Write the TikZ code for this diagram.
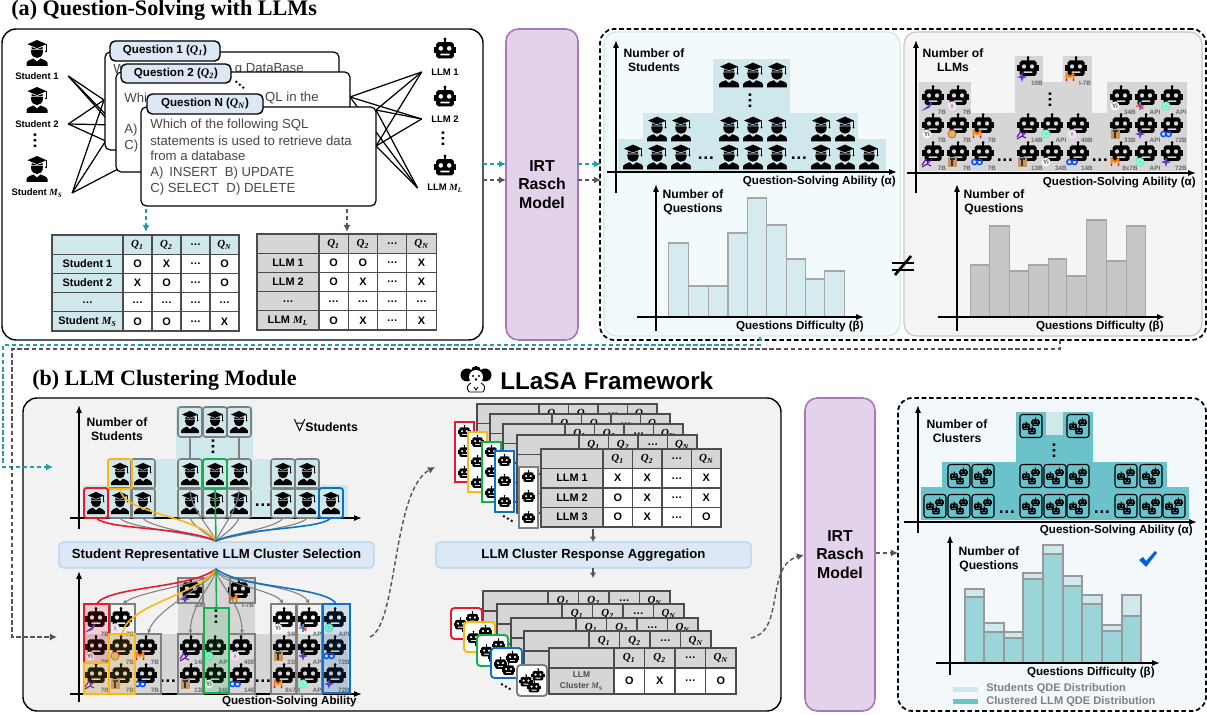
\documentclass[tikz,border=0pt]{standalone}
\usepackage{fontspec}
\usepackage{amsmath}
\setmainfont{Liberation Sans}
\newfontfamily\titlefont{Liberation Serif}
\usetikzlibrary{arrows.meta}
\pgfdeclarelayer{panellayer}
\pgfdeclarelayer{edgelayer}
\pgfsetlayers{panellayer,edgelayer,main}
\definecolor{tealflow}{HTML}{1F9DA8}
\definecolor{grayflow}{HTML}{555555}
\definecolor{stulight}{HTML}{CFE8EC}
\definecolor{llmgray}{HTML}{D6D6D6}
\definecolor{tabblue}{HTML}{DCE8F5}
\definecolor{tabline}{HTML}{B5D3EE}
\definecolor{irtfill}{HTML}{E2D3EA}
\definecolor{irtline}{HTML}{A678B9}
\definecolor{clusterteal}{HTML}{6CC2CB}
\definecolor{mixteal}{HTML}{9AD5D9}
\definecolor{pickred}{HTML}{E8192C}
\definecolor{pickyellow}{HTML}{FBB810}
\definecolor{pickgreen}{HTML}{10B04A}
\definecolor{pickblue}{HTML}{0B72C7}
\definecolor{pickgray}{HTML}{808080}
\definecolor{panelblue}{HTML}{F2F8FC}
\definecolor{panelstu}{HTML}{F3FAFC}
\newcommand{\pxu}{0.02cm}
\newcommand{\qsub}[2]{{\titlefont\itshape #1\textsubscript{#2}}}
\newcommand{\qa}{\qsub{Q}{1}}
\newcommand{\qb}{\qsub{Q}{2}}
\newcommand{\qn}{\qsub{Q}{N}}
\newcommand{\ms}{\qsub{M}{S}}
\newcommand{\ml}{\qsub{M}{L}}
\newcommand{\updots}{\rotatebox{90}{\ldots}}
\tikzset{
	pxbox/.style={inner sep=0pt,outer sep=0pt,align=center},
	panel/.style={pxbox,draw=black,line width=.8pt,rounded corners=8pt},
	dashpanel/.style={pxbox,draw=black,line width=1pt,dash pattern=on 2.6pt off 1.6pt,rounded corners=8pt},
	irtbox/.style={pxbox,draw=irtline,fill=irtfill,line width=.9pt,rounded corners=7pt,font=\fontsize{9}{10.6}\selectfont\bfseries},
	card/.style={pxbox,draw=black,fill=white,line width=.7pt,rounded corners=3pt},
	tabnode/.style={pxbox,draw=black,fill=tabblue,line width=.8pt,rounded corners=3pt,font=\fontsize{6.6}{8}\selectfont\bfseries},
	stagebox/.style={pxbox,draw=tabline,fill=tabblue,line width=.7pt,rounded corners=2.5pt,font=\fontsize{7.5}{9}\selectfont\bfseries},
	cardtext/.style={anchor=west,inner sep=0pt,text=black!72,font=\fontsize{7.5}{8}\selectfont},
	botlabel/.style={inner sep=0pt,outer xsep=5.5pt,font=\fontsize{5.4}{6.5}\selectfont\bfseries},
	axislabel/.style={inner sep=0pt,align=center,font=\fontsize{6.9}{8}\selectfont\bfseries},
	endlabel/.style={inner sep=0pt,anchor=east,font=\fontsize{6.6}{8}\selectfont\bfseries},
	sizelabel/.style={inner sep=0pt,text=black!60,font=\fontsize{3.6}{4}\selectfont\bfseries},
	dotnode/.style={inner sep=0pt,font=\fontsize{10}{10}\selectfont\bfseries},
	cell/.style={pxbox,draw=black!70,line width=.6pt,font=\fontsize{6.2}{7}\selectfont\bfseries},
	wire/.style={line width=.7pt},
	axisline/.style={line width=.9pt,-{Latex[length=4.5pt,width=3.5pt]}},
	flowteal/.style={draw=tealflow,line width=.8pt,dash pattern=on 2.5pt off 1.5pt,-{Latex[length=4pt,width=4pt]}},
	flowgray/.style={draw=grayflow,line width=.8pt,dash pattern=on 2.5pt off 1.5pt,-{Latex[length=4pt,width=4pt]}},
	stepflow/.style={draw=grayflow,line width=.8pt,-{Latex[length=3pt,width=3.5pt]}},
	fan/.style={draw=pickgray,line width=.6pt},
	fantip/.style={fan,-{Latex[length=2.5pt,width=2.5pt]}},
	pickline/.style={draw=#1,line width=.9pt},
	stubox/.style={pxbox,draw=pickgray,line width=.9pt,rounded corners=1.5pt},
	llmbox/.style={pxbox,draw=pickgray,line width=.9pt},
	tintbox/.style={pxbox,draw=#1,line width=1.1pt,fill=#1,fill opacity=.16},
	stripbox/.style={pxbox,draw=#1,line width=1.1pt,fill=white},
	clubox/.style={pxbox,draw=#1,line width=1.1pt,fill=white,rounded corners=2pt},
	student/.pic={
		\fill (-9.5,-8.8) -- (0,-13) -- (9.5,-8.8) -- (0,-4.8) -- cycle;
		\draw [line width=.4pt] (9,-8.8) -- (9,-1.5);
		\fill (9,-1.5) circle (1);
		\fill (-5.5,-6) -- (0,-4) -- (5.5,-6) -- (5.5,-3.5) -- (-5.5,-3.5) -- cycle;
		\fill (-5.8,-2.8) -- (5.8,-2.8) -- (5.8,-.5) .. controls (5.8,3) and (2.5,5) .. (0,5) .. controls (-2.5,5) and (-5.8,3) .. (-5.8,-.5) -- cycle;
		\fill (-10.5,13) -- (-10.5,10) .. controls (-10,7.5) and (-6,6.5) .. (-3.5,5.5) -- (0,8.5) -- (3.5,5.5) .. controls (6,6.5) and (10,7.5) .. (10.5,10) -- (10.5,13) -- cycle;
	},
	robot/.pic={
		\fill (0,-10.5) circle (1.5);
		\fill (-.7,-10.5) rectangle (.7,-7);
		\fill (-10.6,-2.5) rectangle (-8,3);
		\fill (8,-2.5) rectangle (10.6,3);
		\fill [even odd rule] (-6.5,-7.5) -- (6.5,-7.5) -- (8.5,-5.5) -- (8.5,6) -- (6.5,8) -- (-6.5,8) -- (-8.5,6) -- (-8.5,-5.5) -- cycle (-4,-1.5) circle (2.3) (4,-1.5) circle (2.3) (-4.3,3.4) rectangle (4.3,5.2);
	},
	cluster/.pic={
		\pic [scale=.42] at (-5,.5) {robot};
		\pic [scale=.42] at (4.5,-3.5) {robot};
		\pic [scale=.42] at (1,5) {robot};
	},
	bigcluster/.pic={
		\pic [scale=.62] at (-6,1) {robot};
		\pic [scale=.62] at (6,-5) {robot};
		\pic [scale=.62] at (2,7) {robot};
	},
	logoM/.pic={\draw [color=orange,line width=1.1pt] (-3.5,4) -- (-3.5,-3) -- (0,0) -- (3.5,-3) -- (3.5,4);
		\draw [color=red,line width=.6pt] (-3.5,4.5) -- (-3.5,2) (3.5,4.5) -- (3.5,2);},
	logoYi/.pic={\fill [white] (0,0) circle (4.5); \node [text=black!70,inner sep=0pt,font=\fontsize{3.6}{4}\selectfont\bfseries] (yi) at (0,0) {Yi};},
	logoGpt/.pic={\fill [color=black!20!green!35!cyan!60] (0,0) circle (4.6); \draw [white,line width=.3pt] (0,0) circle (2.4);},
	logoMeta/.pic={\draw [color=blue!70!cyan,line width=.8pt] (-2.6,0) circle (2.6) (2.6,0) circle (2.6);},
	logoFalcon/.pic={\fill [color=brown!85!white] (-4.5,-5) rectangle (4.5,5); \draw [black!80,line width=.7pt] (-2.5,-3) -- (2.5,-3) (0,-3) -- (0,4);},
	logoStar/.pic={\fill [color=violet!55!blue!80!white] (0,-5) -- (1.2,-1.2) -- (5,0) -- (1.2,1.2) -- (0,5) -- (-1.2,1.2) -- (-5,0) -- (-1.2,-1.2) -- cycle;},
	logoWave/.pic={\draw [color=violet!70!blue,line width=.6pt] (-5,3) -- (-1,-3) -- (1,1) -- (5,-3) (-5,5) -- (0,2) -- (4,4);},
	logoPen/.pic={\fill [color=blue!60!violet!80!white] (-6,5) -- (2,-1) -- (4,-5) -- (5,-2) -- (2,2) -- cycle;},
	logoGem/.pic={\draw [color=orange,line width=.7pt] (-4,0) -- (4,0); \draw [color=cyan,line width=.7pt] (0,-4) -- (0,4); \draw [color=magenta,line width=.6pt] (-3,-3) -- (3,3);},
	logoSage/.pic={\fill [color=violet!12] (0,0) circle (4.8); \fill [color=violet!45] (0,-3) -- (1,0) -- (0,3) -- (-1,0) -- cycle;},
	logoBall/.pic={\fill [color=olive!50] (0,0) circle (4); \draw [color=red!70,line width=.5pt] (0,0) circle (4);},
	dog/.pic={
		\fill (-9,-6) circle (6.5);
		\fill (9,-6) circle (6.5);
		\fill (0,-10) circle (5);
		\fill [white] (0,-4) circle (7);
		\fill [white] (0,7) circle (8);
		\draw [line width=.5pt] (-7,11) .. controls (-11,6) and (-7,3) .. (-5,2) (7,11) .. controls (11,6) and (7,3) .. (5,2) (-7,11) -- (7,11) (-2,6) -- (0,9) -- (2,6);
		\fill (-3,-5) circle (1.2) (3,-5) circle (1.2) (0,-1.5) circle (1.4);
	}
}
% box given by its corners in pixels
\newcommand{\boxat}[7][]{\node [pxbox,#1,minimum width={(#5-#3)*\pxu},minimum height={(#6-#4)*\pxu}] (#2) at ({(#3+#5)/2},{(#4+#6)/2}) {#7};}
% answer table: name, left, top, first col, col, row, fill, rows
\newcommand{\anstable}[8]{%
	\foreach \row [count=\r] in {#8} {
		\foreach \txt [count=\c] in \row {
			\pgfmathsetmacro\cx{\c==1 ? #2+#4/2 : #2+#4+(\c-1.5)*#5}
			\pgfmathsetmacro\cw{\c==1 ? #4 : #5}
			\pgfmathsetmacro\cy{#3+(\r-.5)*#6}
			\ifnum\c=1 \def\cf{#7}\else\ifnum\r=1 \def\cf{#7}\else\def\cf{white}\fi\fi
			\node [cell,fill=\cf,minimum width={\cw*\pxu},minimum height={#6*\pxu}] (#1-\r-\c) at (\cx,\cy) {\txt};
		}
	}
}
% one llm of the pyramid: x, y, logo, size
\newcommand{\llmbot}[4]{%
	\pic at (#1,#2) {robot};
	\pic at ({#1-6},{#2+9}) {#3};
	\node [sizelabel] (size-#1-#2) at ({#1+9},{#2+15}) {#4};
}
\newcommand{\llmfamily}{%
	\foreach \x/\y/\l/\t in {1028/68/logoStar/10B,1076/68/logoM/I-7B,
		933/97/logoPen/7B,958/97/logoSage/7B,1121/97/logoYi/34B,1146/97/logoGem/API,1172/97/logoGpt/API,
		933/125/logoYi/7B,958/125/logoBall/7B,983/125/logoM/7B,1028/125/logoWave/14B,1052/125/logoGpt/API,1078/125/logoSage/40B,1121/125/logoFalcon/33B,1146/125/logoStar/API,1172/125/logoMeta/72B,
		933/153/logoWave/7B,958/153/logoFalcon/7B,983/153/logoMeta/7B,1028/153/logoFalcon/13B,1052/153/logoYi/34B,1078/153/logoMeta/14B,1121/153/logoM/8x7B,1146/153/logoGpt/API,1172/153/logoStar/72B}
		{\llmbot{\x}{\y}{\l}{\t}}
}
\begin{document}
\begin{tikzpicture}[x=\pxu,y=-\pxu]
	\useasboundingbox (0,0) rectangle (1207,715);
	\node [anchor=west,inner sep=0pt,font=\titlefont\fontsize{12.6}{13}\selectfont\bfseries] (titlea) at (11,10) {(a) Question-Solving with LLMs};
	\node [anchor=west,inner sep=0pt,font=\titlefont\fontsize{12.5}{13}\selectfont\bfseries] (titleb) at (32,380) {(b) LLM Clustering Module};
	\node [anchor=west,inner sep=0pt,font=\fontsize{13.8}{14}\selectfont\bfseries] (titlec) at (500,381) {LLaSA Framework};
	\pic at (476,381) {dog};
	\begin{pgfonlayer}{panellayer}
		\boxat[panel,fill=white]{panela}{2}{29}{483}{340}{}
		\boxat[panel,fill=black!5]{panelb}{23}{398}{781}{711}{}
		\boxat[dashpanel,fill=white]{irtout}{600}{29}{1206}{340}{}
		\boxat[pxbox,draw=stulight,fill=panelstu,line width=.7pt,rounded corners=7pt]{stupanel}{604}{32}{900}{336}{}
		\boxat[pxbox,draw=black!22,fill=black!4,line width=.7pt,rounded corners=7pt]{llmpanel}{904}{32}{1202}{336}{}
		\boxat[dashpanel,fill=panelblue]{outb}{898}{398}{1206}{711}{}
	\end{pgfonlayer}

	% (a) students, llms and question cards
	\foreach \y in {53,100,169} {\pic at (37,\y) {student};}
	\node [botlabel] (st1) at (37,76) {Student 1};
	\node [botlabel] (st2) at (37,124) {Student 2};
	\node [botlabel] (st3) at (37,193) {Student \ms};
	\node [dotnode] (stdots) at (35,141) {\updots};
	\foreach \y in {50,98,167} {\pic [scale=1.05] at (445,\y) {robot};}
	\node [botlabel] (ll1) at (445,72) {LLM 1};
	\node [botlabel] (ll2) at (445,119) {LLM 2};
	\node [botlabel] (ll3) at (445,188) {LLM \ml};
	\node [dotnode] (lldots) at (443,139) {\updots};
	\coordinate (b1) at (104,100);
	\coordinate (b2) at (116,125);
	\coordinate (b3) at (141,157);
	\coordinate (c1) at (350,97);
	\coordinate (c2) at (376,110);
	\coordinate (c3) at (376,146);
	\begin{pgfonlayer}{edgelayer}
		\foreach \s in {st1,st2,st3} {
			\foreach \b in {b1,b2,b3} {\draw [wire] (\s.east) to (\b);}
		}
		\foreach \l in {ll1,ll2,ll3} {
			\foreach \c in {c1,c2,c3} {\draw [wire] (\l.west) to (\c);}
		}
	\end{pgfonlayer}
	\boxat[card]{card1}{105}{52}{339}{150}{}
	\boxat[tabnode]{tab1}{110}{41}{220}{61}{Question 1 (\qa)}
	\node [cardtext] (t1a) at (113,69) {W};
	\node [cardtext,anchor=east] (t1b) at (304,69) {g DataBase};
	\boxat[card]{card2}{116}{72}{350}{172}{}
	\boxat[tabnode]{tab2}{121}{64}{231}{83}{Question 2 (\qb)}
	\node [cardtext] (t2a) at (124,98) {Whi};
	\node [cardtext,anchor=east] (t2b) at (319,98) {QL in the};
	\node [cardtext] (t2c) at (124,130) {A)};
	\node [cardtext] (t2d) at (124,146) {C)};
	\node [inner sep=0pt,font=\fontsize{8}{8}\selectfont\bfseries] (tabdots) at (240,85) {\rotatebox{-40}{\ldots}};
	\boxat[card]{card3}{141}{107}{376}{206}{}
	\boxat[tabnode]{tab3}{147}{94}{263}{114}{Question N (\qn)}
	\node [cardtext] (t3a) at (150,125) {Which of the following SQL};
	\node [cardtext] (t3b) at (150,141) {statements is used to retrieve data};
	\node [cardtext] (t3c) at (150,156) {from a database};
	\node [cardtext] (t3d) at (150,173) {A)\, INSERT\; B) UPDATE};
	\node [cardtext] (t3e) at (150,189) {C) SELECT\; D) DELETE};

	\coordinate (dsa) at (146,209);
	\coordinate (dsb) at (146,232);
	\coordinate (dla) at (347,209);
	\coordinate (dlb) at (347,232);
	\draw [flowteal] (dsa) to (dsb);
	\draw [flowgray] (dla) to (dlb);
	\anstable{stut}{52}{235}{71}{29}{19.2}{stulight}{{{},\qa,\qb,\ldots,\qn},{Student 1,O,X,\ldots,O},{Student 2,X,O,\ldots,O},{\ldots,\ldots,\ldots,\ldots,\ldots},{Student \ms,O,O,\ldots,X}}
	\anstable{llmt}{257}{234}{62}{29.3}{19.2}{llmgray}{{{},\qa,\qb,\ldots,\qn},{LLM 1,O,O,\ldots,X},{LLM 2,O,X,\ldots,X},{\ldots,\ldots,\ldots,\ldots,\ldots},{LLM \ml,O,X,\ldots,X}}

	% irt model and its arrows
	\boxat[irtbox]{irta}{506}{29}{578}{340}{IRT\\Rasch\\Model}
	\boxat[irtbox]{irtb}{805}{398}{875}{711}{IRT\\Rasch\\Model}
	\coordinate (pt) at (483,164);
	\coordinate (pg) at (483,180);
	\coordinate (qt) at (506,164);
	\coordinate (qg) at (506,180);
	\coordinate (rt) at (578,164);
	\coordinate (rg) at (578,180);
	\coordinate (ut) at (601,164);
	\coordinate (ug) at (601,180);
	\draw [flowteal] (pt) to (qt);
	\draw [flowgray] (pg) to (qg);
	\draw [flowteal] (rt) to (ut);
	\draw [flowgray] (rg) to (ug);

	% students pyramid
	\fill [stulight] (618,139) rectangle (886,171);
	\fill [stulight] (643,113) rectangle (858,139);
	\fill [stulight] (713,59) rectangle (790,113);
	\foreach \x/\y in {729/75,753/75,777/75,657/129,681/129,729/129,753/129,777/129,821/129,845/129,633/157,657/157,681/157,729/157,753/157,777/157,821/157,845/157,869/157} {\pic [scale=.95] at (\x,\y) {student};}
	\node [inner sep=0pt,font=\bfseries] (sdota) at (706,158) {\ldots};
	\node [inner sep=0pt,font=\bfseries] (sdotb) at (799,158) {\ldots};
	\node [dotnode] (sdotc) at (750,101) {\updots};
	\coordinate (ax1) at (616,193);
	\coordinate (ax2) at (616,40);
	\coordinate (ax3) at (607,172);
	\coordinate (ax4) at (897,172);
	\draw [axisline] (ax1) to (ax2);
	\draw [axisline] (ax3) to (ax4);
	\node [axislabel] (sny) at (654,60) {Number of\\Students};
	\node [endlabel] (snx) at (896,182) {Question-Solving Ability (α)};

	% student difficulty bars
	\foreach \xa/\xb/\ty in {668.4/688.7/243,688.7/708.6/286,708.6/728/286,728/747.6/233,747.6/766.7/198,766.7/786.3/225,786.3/805.8/259,805.8/824.5/279,824.5/844.8/271} {\draw [draw=black!35,fill=stulight!85,line width=.6pt] (\xa,\ty) rectangle (\xb,317);}
	\coordinate (ax5) at (656,331);
	\coordinate (ax6) at (656,184);
	\coordinate (ax7) at (637,317);
	\coordinate (ax8) at (864,317);
	\draw [axisline] (ax5) to (ax6);
	\draw [axisline] (ax7) to (ax8);
	\node [axislabel] (qny) at (693,202) {Number of\\Questions};
	\node [endlabel] (qnx) at (864,327) {Questions Difficulty (β)};

	% llm pyramid
	\fill [llmgray] (919,113) rectangle (1187,171);
	\fill [llmgray] (919,82) rectangle (971,113);
	\fill [llmgray] (1015,82) rectangle (1092,113);
	\fill [llmgray] (1107,82) rectangle (1187,113);
	\fill [llmgray] (1015,56) rectangle (1043,86);
	\fill [llmgray] (1063,56) rectangle (1092,86);
	\llmfamily
	\node [inner sep=0pt,font=\bfseries] (ldota) at (1005,160) {\ldots};
	\node [inner sep=0pt,font=\bfseries] (ldotb) at (1100,160) {\ldots};
	\node [dotnode] (ldotc) at (1050,100) {\updots};
	\coordinate (ax9) at (916,193);
	\coordinate (ax10) at (916,40);
	\coordinate (ax11) at (907,173);
	\coordinate (ax12) at (1196,173);
	\draw [axisline] (ax9) to (ax10);
	\draw [axisline] (ax11) to (ax12);
	\node [axislabel] (lny) at (953,60) {Number of\\LLMs};
	\node [endlabel] (lnx) at (1196,183) {Question-Solving Ability (α)};

	% llm difficulty bars
	\foreach \xa/\xb/\ty in {970.5/989.2/265,989.2/1009.5/226,1009.5/1028.3/271,1028.3/1048.5/265,1048.5/1066.5/259,1066.5/1086.7/276,1086.7/1106.7/220,1106.7/1126.2/261,1126.2/1145.7/226} {\draw [draw=black!35,fill=black!22,line width=.6pt] (\xa,\ty) rectangle (\xb,317);}
	\coordinate (ax13) at (957,331);
	\coordinate (ax14) at (957,184);
	\coordinate (ax15) at (938,317);
	\coordinate (ax16) at (1165,317);
	\draw [axisline] (ax13) to (ax14);
	\draw [axisline] (ax15) to (ax16);
	\node [axislabel] (mny) at (994,202) {Number of\\Questions};
	\node [endlabel] (mnx) at (1164,327) {Questions Difficulty (β)};

	% not equal sign
	\coordinate (ne1) at (892,263);
	\coordinate (ne2) at (914,263);
	\coordinate (ne3) at (892,270);
	\coordinate (ne4) at (914,270);
	\coordinate (ne5) at (895,275);
	\coordinate (ne6) at (911,256);
	\draw [line width=1.5pt] (ne1) to (ne2);
	\draw [line width=1.5pt] (ne3) to (ne4);
	\draw [line width=1.5pt] (ne5) to (ne6);

	% long dashed links into (b)
	\coordinate (ta) at (760,337);
	\coordinate (tb) at (760,345);
	\coordinate (tc) at (3,345);
	\coordinate (td) at (3,467);
	\coordinate (te) at (53,467);
	\draw [flowteal] (ta) to (tb) to (tc) to (td) to (te);
	\coordinate (ga) at (1060,340);
	\coordinate (gb) at (1060,349);
	\coordinate (gc) at (12,349);
	\coordinate (gd) at (12,637);
	\coordinate (ge) at (57,637);
	\draw [flowgray] (ga) to (gb) to (gc) to (gd) to (ge);

	% (b) student selection
	\fill [stulight] (83,485) rectangle (348,517);
	\fill [stulight] (107,459) rectangle (320,485);
	\fill [stulight] (176,406) rectangle (253,459);
	\coordinate (bx1) at (79,529);
	\coordinate (bx2) at (79,405);
	\coordinate (bx3) at (70,518);
	\coordinate (bx4) at (362,518);
	\draw [axisline] (bx1) to (bx2);
	\draw [axisline] (bx3) to (bx4);
	\node [axislabel] (bny) at (117,429) {Number of\\Students};
	\node [inner sep=0pt,font=\fontsize{7}{8}\selectfont\bfseries] (forall) at (326,425) {{\fontsize{10}{10}\selectfont$\boldsymbol{\forall}$}Students};
	\foreach \n/\x/\y in {ta/190/422,tb/215/422,tc/239/422,ma/143/474,mb/190/474,mc/239/474,md/283/474,me/307/474,la/120/503,lb/143/503,lc/190/503,ld/215/503,le/239/503,lf/283/503,lg/307/503} {
		\pic [scale=.85] at (\x,\y) {student};
		\node [stubox,minimum width={24*\pxu},minimum height={30*\pxu}] (sb\n) at (\x,\y) {};
	}
	\foreach \n/\x/\y/\c in {pr/96/503/pickred,py/120/474/pickyellow,pg/215/474/pickgreen,pb/331/503/pickblue} {
		\pic [scale=.85] at (\x,\y) {student};
		\node [stubox,draw=\c,line width=1.1pt,minimum width={24*\pxu},minimum height={30*\pxu}] (sb\n) at (\x,\y) {};
	}
	\node [inner sep=0pt,font=\bfseries] (bdota) at (263,505) {\ldots};
	\node [dotnode] (bdotb) at (213,447) {\updots};
	\boxat[stagebox]{selbox}{59}{542}{374}{568}{Student Representative LLM Cluster Selection}
	\coordinate (hub) at (216,541);
	\coordinate (hubb) at (216,569);
	\draw [fan] (sbta.south) to (sbmb.north);
	\draw [fan] (sbtc.south) to (sbmc.north);
	\foreach \n/\ax/\bx in {la/5/-24,lb/5/-20,lc/4/-10,le/-4/10,lf/-5/20,lg/-5/24} {
		\draw [fan] (sb\n.south) .. controls +(\ax,9) and +(\bx,-8) .. (hub);
	}
	\draw [fan] (sbmc.south) .. controls +(0,20) and +(6,-14) .. (hub);
	\draw [fan] (sbmb.south) .. controls +(0,20) and +(-6,-14) .. (hub);
	\draw [pickline=pickred] (sbpr.south) .. controls +(12,12) and +(-30,-14) .. (hub);
	\draw [pickline=pickyellow] (sbpy.south) .. controls +(2,25) and +(-15,-25) .. (hub);
	\draw [pickline=pickgreen] (sbpg.south) to (hub);
	\draw [pickline=pickblue] (sbpb.south) .. controls +(-12,12) and +(30,-14) .. (hub);

	% (b) llm selection
	\fill [llmgray] (83,634) rectangle (348,694);
	\fill [llmgray] (178,578) rectangle (255,634);
	\begin{scope}[shift={(-837,522)}]
		\llmfamily
	\end{scope}
	\node [inner sep=0pt,font=\bfseries] (bdotc) at (168,681) {\ldots};
	\node [inner sep=0pt,font=\bfseries] (bdotd) at (263,681) {\ldots};
	\node [dotnode] (bdote) at (216,617) {\updots};
	\coordinate (bx5) at (79,702);
	\coordinate (bx6) at (79,571);
	\coordinate (bx7) at (70,694);
	\coordinate (bx8) at (362,694);
	\draw [axisline] (bx5) to (bx6);
	\draw [axisline] (bx7) to (bx8);
	\node [endlabel] (bnx) at (357,702) {Question-Solving Ability};
	\boxat[llmbox]{lb1}{110}{604}{135}{634}{}
	\boxat[llmbox]{lb2}{135}{634}{161}{694}{}
	\boxat[llmbox]{lb3}{178}{634}{203}{694}{}
	\boxat[llmbox]{lb4}{229}{634}{255}{694}{}
	\boxat[llmbox]{lb5}{271}{604}{296}{694}{}
	\boxat[llmbox]{lb6}{297}{604}{322}{694}{}
	\boxat[llmbox]{lb7}{178}{578}{203}{603}{}
	\boxat[llmbox]{lb8}{230}{578}{255}{603}{}
	\boxat[tintbox=pickred]{lr}{84}{604}{109}{663}{}
	\boxat[tintbox=pickyellow]{ly1}{84}{663}{109}{694}{}
	\boxat[tintbox=pickyellow]{ly2}{109}{634}{135}{694}{}
	\boxat[tintbox=pickgreen]{lg}{204}{608}{229}{693}{}
	\boxat[tintbox=pickblue]{lbl}{323}{604}{350}{693}{}
	\foreach \n/\rx/\ry in {lb1/20/-14,lb5/-10/-14,lb6/-12/-20} {
		\draw [fantip] (hubb) .. controls +(0,14) and +(\rx,\ry) .. (\n.north);
	}
	\foreach \n/\rx/\ry in {lb2/8/-26,lb3/0/-30,lb4/0/-30} {
		\draw [fantip] (hubb) .. controls +(0,12) and +(\rx,\ry) .. (\n.north);
	}
	\draw [pickline=pickred] (hubb) .. controls +(-26,20) and +(12,-18) .. (lr.north);
	\draw [pickline=pickyellow] (hubb) .. controls +(-15,25) and +(5,-30) .. (ly2.north);
	\draw [pickline=pickgreen] (hubb) to (lg.north);
	\draw [pickline=pickblue] (hubb) .. controls +(26,20) and +(-12,-18) .. (lbl.north);
	\coordinate (ia) at (370,637);
	\coordinate (ib) at (435,467);
	\draw [flowgray] (ia) .. controls (398,625) and (392,490) .. (ib);

	% (b) upper table stack
	\foreach \i/\x/\y in {0/477/404,1/490/414,2/503/424,3/517/435} {
		\anstable{up\i}{\x}{\y}{62}{29.5}{19.5}{llmgray}{{{},\qa,\qb,\ldots,\qn},{{},{},{},{},{}},{{},{},{},{},{}},{{},{},{},{},{}}}
	}
	\anstable{upf}{541}{449}{62}{29.5}{19.5}{llmgray}{{{},\qa,\qb,\ldots,\qn},{LLM 1,X,X,\ldots,X},{LLM 2,O,X,\ldots,X},{LLM 3,O,X,\ldots,O}}
	\foreach \n/\xa/\ya/\xb/\yb/\c in {sa/455/422/474/482/pickred,sb/468/432/487/492/pickyellow,sc/482/442/501/502/pickgreen,sd/495/451/514/512/pickblue,se/519/467/538/528/pickgray} {
		\boxat[stripbox=\c]{strip\n}{\xa}{\ya}{\xb}{\yb}{}
		\pgfmathsetmacro\mx{(\xa+\xb)/2}
		\foreach \dy in {10,30,51} {\pic [scale=.6] at (\mx,\ya+\dy) {robot};}
	}
	\node [inner sep=0pt,font=\fontsize{8}{8}\selectfont\bfseries] (stripdots) at (508,519) {\rotatebox{-30}{\ldots}};
	\coordinate (sa1) at (593,529);
	\coordinate (sa3) at (593,578);
	\boxat[stagebox]{aggbox}{436}{542}{751}{568}{LLM Cluster Response Aggregation}
	\draw [stepflow] (sa1) to (aggbox.north -| sa1);
	\draw [stepflow] (aggbox.south -| sa1) to (sa3);

	% (b) lower table stack
	\foreach \i/\x/\y in {0/483/591,1/497/604,2/511/618,3/524/631} {
		\anstable{lo\i}{\x}{\y}{65}{30.5}{20}{llmgray}{{{},\qa,\qb,\ldots,\qn},{{},{},{},{},{}},{{},{},{},{},{}}}
	}
	\anstable{lof}{549}{648}{65}{30.5}{20}{llmgray}{{{},\qa,\qb,\ldots,\qn}}
	\boxat[cell,fill=llmgray,text=black!70,font=\fontsize{4.8}{6.5}\selectfont\bfseries]{lofa}{549}{668}{614}{694}{LLM\\Cluster \ms}
	\boxat[cell,fill=white]{lofb}{614}{668}{644.5}{694}{O}
	\boxat[cell,fill=white]{lofc}{644.5}{668}{675}{694}{X}
	\boxat[cell,fill=white]{lofd}{675}{668}{705.5}{694}{\ldots}
	\boxat[cell,fill=white]{lofe}{705.5}{668}{736}{694}{O}
	\foreach \n/\xa/\ya/\xb/\yb/\c in {ca/451/608/482/639/pickred,cb/464/622/495/652/pickyellow,cc/477/635/508/666/pickgreen,cd/491/648/522/678/pickblue,ce/517/665/547/696/pickgray} {
		\boxat[clubox=\c]{clu\n}{\xa}{\ya}{\xb}{\yb}{}
		\pgfmathsetmacro\mx{(\xa+\xb)/2}
		\pgfmathsetmacro\my{(\ya+\yb)/2}
		\pic at (\mx,\my) {bigcluster};
	}
	\node [inner sep=0pt,font=\fontsize{8}{8}\selectfont\bfseries] (cludots) at (506,687) {\rotatebox{-30}{\ldots}};
	\coordinate (oa) at (751,638);
	\coordinate (ob) at (804,555);
	\draw [flowgray] (oa) .. controls (785,632) and (765,565) .. (ob);
	\coordinate (oc) at (876,553);
	\coordinate (od) at (898,553);
	\draw [flowgray] (oc) to (od);

	% clustered pyramid
	\fill [clusterteal] (921,487) rectangle (1189,520);
	\fill [clusterteal] (942,462) rectangle (1167,487);
	\fill [clusterteal] (1016,412) rectangle (1093,462);
	\fill [stulight] (1046,412) rectangle (1063,435);
	\foreach \n/\x/\y in {1/1031/426,2/1078/426,3/959/476,4/983/476,5/1031/476,6/1055/476,7/1078/476,8/1126/476,9/1151/476,10/935/506,11/959/506,12/983/506,13/1031/506,14/1055/506,15/1078/506,16/1126/506,17/1151/506,18/1174/506} {
		\node [pxbox,draw=black,line width=.6pt,rounded corners=1.5pt,minimum width={22*\pxu},minimum height={23*\pxu}] (cb\n) at (\x,\y) {};
		\pic at (\x,\y) {cluster};
	}
	\node [inner sep=0pt,font=\bfseries] (cdota) at (1007,512) {\ldots};
	\node [inner sep=0pt,font=\bfseries] (cdotb) at (1102,512) {\ldots};
	\node [dotnode] (cdotc) at (1054,451) {\updots};
	\coordinate (cx1) at (918,533);
	\coordinate (cx2) at (918,405);
	\coordinate (cx3) at (904,522);
	\coordinate (cx4) at (1197,522);
	\draw [axisline] (cx1) to (cx2);
	\draw [axisline] (cx3) to (cx4);
	\node [axislabel] (cny) at (957,431) {Number of\\Clusters};
	\node [endlabel] (cnx) at (1193,531) {Question-Solving Ability (α)};

	% clustered difficulty bars
	\foreach \xa/\xb/\ta/\tb in {965/984/589/597,984/1004/623/632,1004/1023/632/638,1023/1043/573/579,1043/1063/545/554,1063/1082/576/586,1082/1102/595/604,1102/1122/625/631,1122/1141/595/616} {
		\draw [draw=black!40,fill=stulight,line width=.6pt] (\xa,\ta) rectangle (\xb,663);
		\draw [draw=black!40,fill=mixteal,line width=.6pt] (\xa,\tb) rectangle (\xb,663);
	}
	\coordinate (cx5) at (950,675);
	\coordinate (cx6) at (950,535);
	\coordinate (cx7) at (936,663);
	\coordinate (cx8) at (1160,663);
	\draw [axisline] (cx5) to (cx6);
	\draw [axisline] (cx7) to (cx8);
	\node [axislabel] (dny) at (989,559) {Number of\\Questions};
	\node [endlabel] (dnx) at (1155,673) {Questions Difficulty (β)};
	\fill [blue!55!cyan!85!black] (1139,560) -- (1143,557) -- (1146,561) -- (1155,551) -- (1157,553) -- (1146,567) -- cycle;
	\fill [stulight] (953,687) rectangle (978,692);
	\fill [clusterteal] (953,699) rectangle (978,704);
	\node [anchor=west,inner sep=0pt,text=black!50,font=\fontsize{6.3}{7}\selectfont\bfseries] (lega) at (986,689) {Students QDE Distribution};
	\node [anchor=west,inner sep=0pt,text=black!50,font=\fontsize{6.3}{7}\selectfont\bfseries] (legb) at (986,702) {Clustered LLM QDE Distribution};
\end{tikzpicture}
\end{document}
